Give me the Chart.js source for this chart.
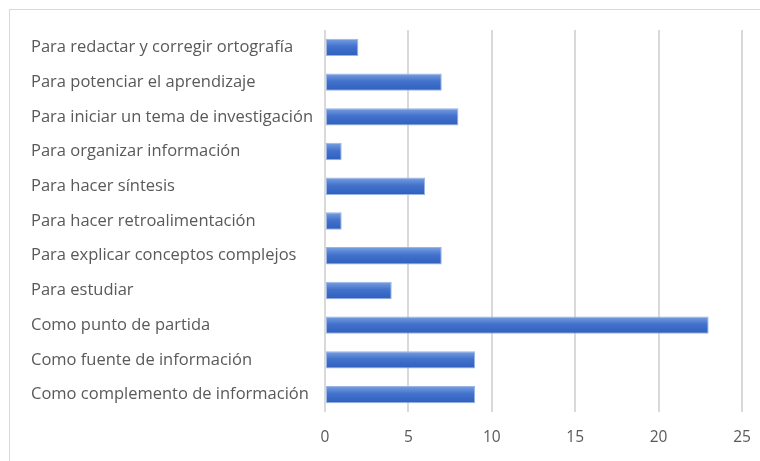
<!DOCTYPE html>
<html>
<head>
<meta charset="utf-8">
<script src="https://cdn.jsdelivr.net/npm/chart.js@4"></script>
<style>
  html, body { margin: 0; padding: 0; background: #fff; }
  #wrap { position: relative; width: 760px; height: 461px; overflow: hidden; }
  #frame { position: absolute; left: 9px; top: 9px; width: 800px; height: 500px; border: 1px solid #d9d9d9; box-sizing: border-box; }
  #c { position: absolute; left: 0; top: 0; }
</style>
</head>
<body>
<div id="wrap">
  <div id="frame"></div>
  <canvas id="c" width="760" height="461"></canvas>
</div>
<script>
const categories = [
  "Para redactar y corregir ortografía",
  "Para potenciar el aprendizaje",
  "Para iniciar un tema de investigación",
  "Para organizar información",
  "Para hacer síntesis",
  "Para hacer retroalimentación",
  "Para explicar conceptos complejos",
  "Para estudiar",
  "Como punto de partida",
  "Como fuente de información",
  "Como complemento de información"
];
const values = [2, 7, 8, 1, 6, 1, 7, 4, 23, 9, 9];
const xTicks = [0, 5, 10, 15, 20, 25];

const FONT = "'Open Sans', 'Noto Sans', sans-serif";

function barGradient(ctx) {
  const chart = ctx.chart;
  const ys = chart.scales && chart.scales.y;
  if (!ys || ctx.dataIndex === undefined || !chart.chartArea) return '#4472c4';
  const yc = ys.getPixelForValue(ctx.dataIndex);
  const band = (ys.bottom - ys.top) / categories.length;
  const h = band * 0.5;
  const g = chart.ctx.createLinearGradient(0, yc - h / 2, 0, yc + h / 2);
  g.addColorStop(0, '#7aa0e0');
  g.addColorStop(0.45, '#4272cc');
  g.addColorStop(1, '#2f5fbd');
  return g;
}

new Chart(document.getElementById('c'), {
  type: 'bar',
  data: {
    labels: categories,
    datasets: [{
      data: values,
      backgroundColor: barGradient,
      borderColor: '#9ab4e6',
      borderWidth: 1,
      borderSkipped: false,
      barPercentage: 0.5,
      categoryPercentage: 1.0
    }]
  },
  options: {
    indexAxis: 'y',
    responsive: false,
    animation: false,
    devicePixelRatio: 1,
    layout: { padding: { left: 31, right: 18, top: 30, bottom: 0 } },
    plugins: { legend: { display: false }, tooltip: { enabled: false } },
    scales: {
      x: {
        min: 0, max: 25,
        afterBuildTicks: (s) => { s.ticks = xTicks.map(v => ({ value: v })); },
        afterFit: (s) => { s.height = 49; s.paddingLeft = 0; s.paddingRight = 0; },
        grid: { color: '#d9d9d9', lineWidth: 2, drawTicks: false },
        border: { display: false },
        ticks: { color: '#595959', padding: 16, font: { family: FONT, size: 15.5 } }
      },
      y: {
        grid: { display: false, drawTicks: false },
        border: { display: false },
        afterFit: (s) => { s.width = 294; s.paddingTop = 0; s.paddingBottom = 0; },
        ticks: { crossAlign: 'far', color: '#595959', padding: 0, font: { family: FONT, size: 16.5 } }
      }
    }
  }
});
</script>
</body>
</html>
